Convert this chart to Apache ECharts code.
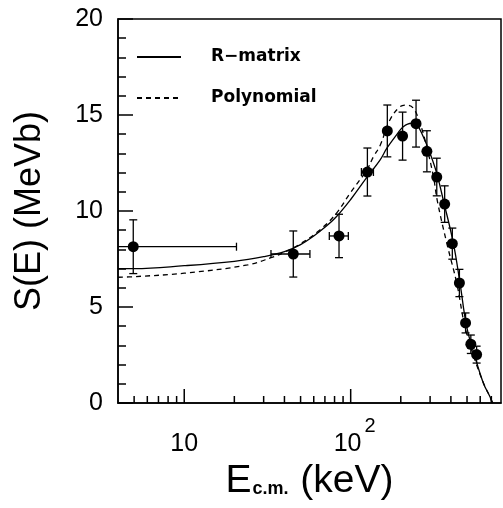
<!DOCTYPE html>
<html>
<head>
<meta charset="utf-8">
<script src="https://cdn.jsdelivr.net/npm/echarts@6/dist/echarts.min.js"></script>
<style>
  html, body { margin: 0; padding: 0; background: #fff; }
  #chart { width: 503px; height: 508px; }
</style>
</head>
<body>
<div id="chart"></div>
<script>
// measured S-factor points (keV, MeV b)
const energy = [4.94, 45.2, 85.1, 126, 166, 205, 247, 287, 329, 367, 408, 450, 490, 527, 571];
const sVal   = [8.14, 7.76, 8.70, 12.03, 14.17, 13.9, 14.55, 13.11, 11.77, 10.36, 8.30, 6.25, 4.17, 3.06, 2.52];
const sErr   = [1.4, 1.2, 1.13, 1.25, 1.35, 1.25, 1.22, 1.07, 0.98, 0.95, 0.81, 0.71, 0.52, 0.48, 0.44];
// energy bins (only the low energy points have them)
const eLow   = [1, 33.2, 74.4, 116, null, null, null, null, null, null, null, null, null, null, null];
const eHigh  = [20.6, 56.9, 96.8, 137, null, null, null, null, null, null, null, null, null, null, null];

// R-matrix fit
const rmatE = [4, 5, 10, 20, 30, 40, 50, 60, 70, 82, 100, 125, 150, 165, 190, 207, 232, 249, 273, 300, 329, 360, 414, 454, 498, 558, 627, 680, 715];
const rmatS = [7.0, 7.0, 7.15, 7.38, 7.62, 7.88, 8.25, 8.7, 9.15, 9.7, 10.6, 11.75, 12.65, 13.27, 14.0, 14.39, 14.57, 14.5, 13.87, 13.0, 11.96, 10.57, 8.32, 6.23, 3.97, 2.41, 1.03, 0.4, 0.0];

// polynomial fit
const polyE = [4, 5, 10, 24, 34, 40, 50, 65, 82, 99, 125, 137, 150, 172, 198, 217, 238, 261, 286, 314, 332, 378, 434, 486, 558, 641, 687, 705];
const polyS = [6.55, 6.58, 6.76, 7.19, 7.6, 7.85, 8.3, 9.0, 9.88, 10.92, 12.14, 12.83, 13.4, 14.74, 15.43, 15.52, 15.35, 14.57, 13.35, 11.8, 10.5, 8.32, 6.23, 3.97, 2.24, 0.85, 0.33, 0.0];

// axis ticks
const yTicks = [0, 5, 10, 15, 20];
const xMajorTicks = [10, 100];
const xMinorTicks = [5, 6, 7, 8, 9, 20, 30, 40, 50, 60, 70, 80, 90, 200, 300, 400, 500, 600, 700];

const FONT = 'Liberation Sans, Arial, sans-serif';
const INK = '#000';

const chart = echarts.init(document.getElementById('chart'));

function seg(x1, y1, x2, y2) {
  return { type: 'line', shape: { x1, y1, x2, y2 }, style: { stroke: INK, lineWidth: 1.3 } };
}

function renderErrorBar(params, api) {
  const e = api.value(0), s = api.value(1), ds = api.value(2);
  const lo = api.value(3), hi = api.value(4);
  const cap = 4;
  const top = api.coord([e, s + ds]);
  const bot = api.coord([e, s - ds]);
  const kids = [
    seg(top[0], top[1], bot[0], bot[1]),
    seg(top[0] - cap, top[1], top[0] + cap, top[1]),
    seg(bot[0] - cap, bot[1], bot[0] + cap, bot[1])
  ];
  if (lo > 0 && hi > 0) {
    const l = api.coord([lo, s]), r = api.coord([hi, s]);
    kids.push(
      seg(l[0], l[1], r[0], r[1]),
      seg(l[0], l[1] - cap, l[0], l[1] + cap),
      seg(r[0], r[1] - cap, r[0], r[1] + cap)
    );
  }
  return { type: 'group', children: kids };
}

function renderTick(params, api) {
  const v = api.value(0);
  const p = api.coord([v, 0]);
  const len = xMajorTicks.includes(v) ? 14 : 7;
  return { type: 'line', shape: { x1: p[0], y1: p[1], x2: p[0], y2: p[1] - len },
           style: { stroke: INK, lineWidth: 1.5 } };
}

function near(v, t) { return Math.abs(v - t) < 1e-6 * t; }

chart.setOption({
  animation: false,
  backgroundColor: '#fff',
  grid: { left: 118, right: 2, top: 19, bottom: 105, show: true, borderColor: INK, borderWidth: 1.5 },
  legend: {
    orient: 'vertical', left: 136, top: 47, padding: 0,
    itemGap: 21, itemWidth: 44, itemHeight: 14,
    selectedMode: false,
    data: ['R−matrix', 'Polynomial'],
    itemStyle: { color: 'rgba(0,0,0,0)', borderWidth: 0 },
    textStyle: { fontFamily: 'DejaVu Sans', fontWeight: 'bold', fontSize: 17, lineHeight: 20,
                 color: INK, padding: [0, 0, 0, 25] }
  },
  xAxis: {
    type: 'log', logBase: 10, min: 4, max: 800,
    axisLine: { show: true, onZero: false, lineStyle: { color: INK, width: 1.5 } },
    axisTick: { show: false },
    splitLine: { show: false },
    axisLabel: {
      showMinLabel: false, showMaxLabel: false,
      verticalAlign: 'bottom', margin: 54,
      formatter: v => near(v, xMajorTicks[0]) ? '{b|10}' : near(v, xMajorTicks[1]) ? '{b2|10}{sup|2}' : '',
      rich: {
        b:   { fontSize: 25, lineHeight: 25, fontFamily: FONT, color: INK, verticalAlign: 'bottom' },
        b2:  { fontSize: 25, lineHeight: 25, fontFamily: FONT, color: INK, verticalAlign: 'bottom', padding: [0, 0, 0, 8] },
        sup: { fontSize: 20, lineHeight: 20, fontFamily: FONT, color: INK, verticalAlign: 'bottom', padding: [0, 0, 21, 3] }
      }
    },
    name: '{e|E}{sub|c.m.}{e| (keV)}',
    nameLocation: 'middle', nameGap: 53,
    nameTextStyle: {
      rich: {
        e:   { fontSize: 39, lineHeight: 39, fontFamily: FONT, color: INK },
        sub: { fontSize: 18, lineHeight: 18, fontFamily: FONT, fontWeight: 'bold', color: INK,
               verticalAlign: 'bottom', padding: [0, 1, 3, 1] }
      }
    }
  },
  yAxis: {
    type: 'value', min: yTicks[0], max: yTicks[yTicks.length - 1], interval: yTicks[1] - yTicks[0],
    axisLine: { show: true, onZero: false, lineStyle: { color: INK, width: 1.5 } },
    axisTick: { inside: true, length: 15, lineStyle: { color: INK, width: 1.5 } },
    minorTick: { show: true, splitNumber: 5, length: 8, lineStyle: { color: INK, width: 1.5 } },
    splitLine: { show: false },
    axisLabel: { fontSize: 25, fontFamily: FONT, color: INK, margin: 15 },
    name: 'S(E) (MeVb)',
    nameLocation: 'middle', nameGap: 70,
    nameTextStyle: { fontSize: 36, fontFamily: FONT, color: INK }
  },
  series: [
    {
      name: 'R−matrix', type: 'line', symbol: 'none', smooth: 0.4, z: 2,
      data: rmatE.map((e, i) => [e, rmatS[i]]),
      lineStyle: { color: INK, width: 1.3 }, itemStyle: { color: INK }
    },
    {
      name: 'Polynomial', type: 'line', symbol: 'none', smooth: 0.4, z: 2,
      data: polyE.map((e, i) => [e, polyS[i]]),
      lineStyle: { color: INK, width: 1.3, type: [5, 4] }, itemStyle: { color: INK }
    },
    {
      type: 'custom', clip: true, silent: true, z: 3,
      renderItem: renderErrorBar,
      data: energy.map((e, i) => [e, sVal[i], sErr[i], eLow[i], eHigh[i]])
    },
    {
      type: 'scatter', symbol: 'circle', symbolSize: 11, z: 4, silent: true,
      data: energy.map((e, i) => [e, sVal[i]]),
      itemStyle: { color: INK, opacity: 1 }
    },
    {
      type: 'custom', silent: true, z: 5,
      renderItem: renderTick,
      data: xMinorTicks.concat(xMajorTicks).map(v => [v, 0])
    }
  ]
});
</script>
</body>
</html>
